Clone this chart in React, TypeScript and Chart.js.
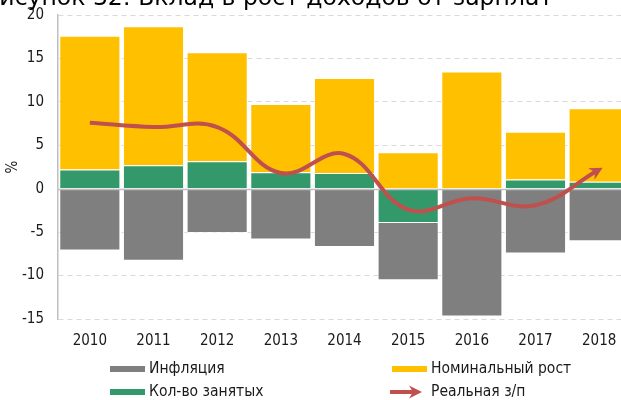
import React, { useEffect, useRef } from "react";
import { Chart, registerables } from "chart.js";

Chart.register(...registerables);

const years = ["2010", "2011", "2012", "2013", "2014", "2015", "2016", "2017", "2018"];
const inflation = [-7.1, -8.3, -5.1, -5.85, -6.7, -6.6, -14.7, -7.45, -6.05];
const employment = [2.2, 2.7, 3.15, 1.9, 1.8, -3.95, 0, 1.05, 0.8];
const nominalGrowth = [17.6, 18.7, 15.7, 9.75, 12.75, 4.2, 13.5, 6.55, 9.25];
const realWage = [7.6, 7.1, 7.1, 1.8, 4.0, -2.4, -1.1, -1.9, 2.2];
const yMin = -15;
const yMax = 20;
const yStep = 5;

const titleText = "Рисунок 32: Вклад в рост доходов от зарплат";
const labelInflation = "Инфляция";
const labelNominal = "Номинальный рост";
const labelEmployment = "Кол-во занятых";
const labelReal = "Реальная з/п";

const GRAY = "#7F7F7F";
const YELLOW = "#FFC000";
const GREEN = "#33996A";
const RED = "#C0504D";
const FONT = "'DejaVu Sans Condensed', 'DejaVu Sans', sans-serif";
const TEXT = "#1a1a1a";

function drawArrowHead(ctx: CanvasRenderingContext2D, x: number, y: number, ux: number, uy: number, color: string) {
  const len = Math.hypot(ux, uy) || 1;
  const dx = ux / len;
  const dy = uy / len;
  const px = -dy;
  const py = dx;
  const tipX = x + dx * 4;
  const tipY = y + dy * 4;
  const baseX = x - dx * 9;
  const baseY = y - dy * 9;
  const notchX = x - dx * 5;
  const notchY = y - dy * 5;
  const hw = 6.5;
  ctx.fillStyle = color;
  ctx.beginPath();
  ctx.moveTo(tipX, tipY);
  ctx.lineTo(baseX + px * hw, baseY + py * hw);
  ctx.lineTo(notchX, notchY);
  ctx.lineTo(baseX - px * hw, baseY - py * hw);
  ctx.closePath();
  ctx.fill();
}

const customPlugin = {
  id: "customDecor",
  beforeDatasetDraw(chart: any, args: any) {
    if (args.index !== 3) return;
    const ctx = chart.ctx;
    const area = chart.chartArea;
    const y0 = Math.round(chart.scales.y.getPixelForValue(0)) + 0.5;
    ctx.save();
    ctx.strokeStyle = "#BFBFBF";
    ctx.lineWidth = 1.5;
    ctx.beginPath();
    ctx.moveTo(area.left, y0);
    ctx.lineTo(area.right + 20, y0);
    ctx.stroke();
    ctx.restore();
  },
  afterDatasetDraw(chart: any, args: any) {
    if (args.index !== 3) return;
    const ctx = chart.ctx;
    const pts = args.meta.data;
    const last = pts[pts.length - 1];
    const ux = last.x - last.cp1x;
    const uy = last.y - last.cp1y;
    ctx.save();
    drawArrowHead(ctx, last.x, last.y, ux, uy, RED);
    ctx.restore();
  },
  afterDraw(chart: any) {
    const ctx = chart.ctx;
    ctx.save();
    // title (partially clipped at top)
    ctx.fillStyle = "#000";
    ctx.font = `23.5px 'DejaVu Sans', sans-serif`;
    ctx.textAlign = "right";
    ctx.textBaseline = "alphabetic";
    ctx.fillText(titleText, 553, 5);

    // legend
    ctx.font = `15.5px ${FONT}`;
    ctx.textAlign = "left";
    ctx.textBaseline = "middle";
    const row1 = 369;
    const row2 = 392;
    const c1 = 110;
    const c2 = 392;
    const bw = 35;
    ctx.fillStyle = GRAY;
    ctx.fillRect(c1, row1 - 3, bw, 6);
    ctx.fillStyle = YELLOW;
    ctx.fillRect(c2, row1 - 3, bw, 6);
    ctx.fillStyle = GREEN;
    ctx.fillRect(c1, row2 - 3, bw, 6);
    ctx.strokeStyle = RED;
    ctx.lineWidth = 4;
    ctx.beginPath();
    ctx.moveTo(c2 - 2, row2);
    ctx.lineTo(c2 + bw - 12, row2);
    ctx.stroke();
    drawArrowHead(ctx, c2 + bw - 9, row2, 1, 0, RED);

    ctx.fillStyle = TEXT;
    ctx.fillText(labelInflation, c1 + bw + 4, row1);
    ctx.fillText(labelNominal, c2 + bw + 4, row1);
    ctx.fillText(labelEmployment, c1 + bw + 4, row2);
    ctx.fillText(labelReal, c2 + bw + 4, row2);
    ctx.restore();
  },
};

export default function App() {
  const ref = useRef<HTMLCanvasElement | null>(null);

  useEffect(() => {
    if (!ref.current) return;
    const nominalSegment = nominalGrowth.map((v, i) => v - Math.max(employment[i], 0));
    const barBorder = "rgba(255,255,255,0.55)";
    const chart = new Chart(ref.current, {
      type: "bar",
      data: {
        labels: years,
        datasets: [
          {
            type: "bar",
            label: labelEmployment,
            data: employment,
            backgroundColor: GREEN,
            borderColor: barBorder,
            borderWidth: 1,
            stack: "s",
            order: 2,
          },
          {
            type: "bar",
            label: labelInflation,
            data: inflation,
            backgroundColor: GRAY,
            borderColor: "rgba(255,255,255,0.6)",
            borderWidth: 1,
            stack: "s",
            order: 2,
          },
          {
            type: "bar",
            label: labelNominal,
            data: nominalSegment,
            backgroundColor: YELLOW,
            borderColor: barBorder,
            borderWidth: 1,
            stack: "s",
            order: 2,
          },
          {
            type: "line",
            label: labelReal,
            data: realWage,
            borderColor: RED,
            borderWidth: 4,
            tension: 0.4,
            pointRadius: 0,
            fill: false,
            stack: "line",
            order: 0,
            borderCapStyle: "butt",
          } as any,
        ],
      },
      options: {
        responsive: false,
        animation: false,
        layout: { padding: { top: 15, left: 0, right: 0, bottom: 0 } },
        datasets: {
          bar: { categoryPercentage: 0.96, barPercentage: 1 },
        },
        plugins: {
          legend: { display: false },
          tooltip: { enabled: false },
          title: { display: false },
        },
        scales: {
          x: {
            stacked: true,
            grid: { display: false, drawTicks: false },
            border: { display: false },
            ticks: {
              color: TEXT,
              font: { family: FONT, size: 15 },
              padding: 13,
              maxRotation: 0,
            },
            afterFit: (s: any) => {
              s.height = 81;
              s.paddingLeft = 0;
              s.paddingRight = 0;
            },
          },
          y: {
            stacked: true,
            min: yMin,
            max: yMax,
            ticks: {
              stepSize: yStep,
              color: TEXT,
              font: { family: FONT, size: 15 },
              padding: 14,
            },
            grid: {
              drawTicks: false,
              color: (c: any) => (c.tick && c.tick.value === 0 ? "rgba(0,0,0,0)" : "#D9D9D9"),
              lineWidth: 1,
            },
            border: { display: true, color: "#BFBFBF", width: 1.5, dash: [5, 4] as any },
            title: {
              display: true,
              text: "%",
              color: TEXT,
              font: { family: FONT, size: 15 },
              padding: { top: 4, bottom: 0 },
            },
            afterFit: (s: any) => {
              s.width = 58;
              s.paddingTop = 0;
              s.paddingBottom = 0;
            },
          },
        },
      },
      plugins: [customPlugin],
    });
    return () => chart.destroy();
  }, []);

  return (
    <div
      style={{
        position: "fixed",
        left: 0,
        top: 0,
        width: 621,
        height: 400,
        overflow: "hidden",
        background: "#fff",
      }}
    >
      <canvas ref={ref} width={631} height={400} style={{ display: "block", width: 631, height: 400 }} />
    </div>
  );
}
